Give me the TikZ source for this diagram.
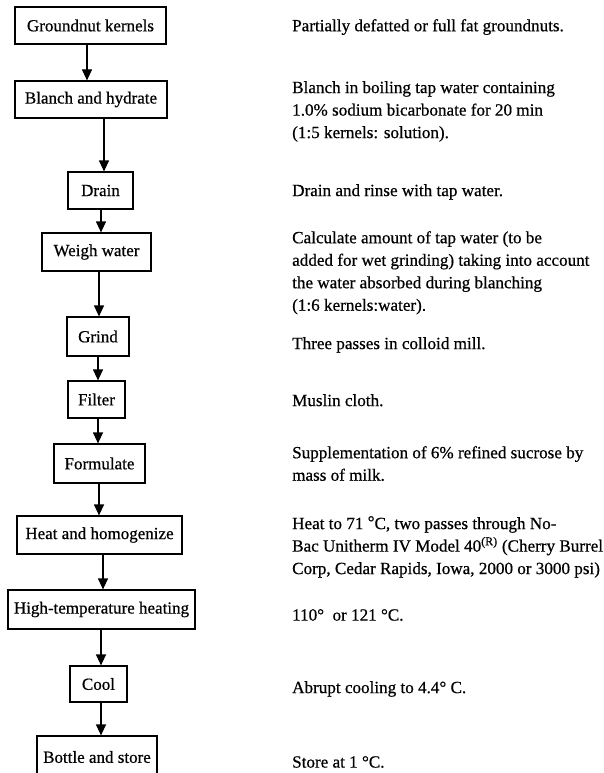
\documentclass[tikz,border=0pt]{standalone}
\usepackage{fontspec}
\setmainfont{Liberation Serif}[FakeBold=0.6]
\usetikzlibrary{arrows.meta}
\tikzset{
  stepbox/.style={draw, line width=1.2pt, inner sep=0pt, font=\fontsize{17}{20}\selectfont},
  note/.style={anchor=north west, inner sep=0pt, align=left, font=\fontsize{17.1}{22.5}\selectfont},
  flow/.style={line width=1.2pt, -{Triangle[width=10pt,length=11pt]}}
}
\begin{document}
\begin{tikzpicture}[x=1pt,y=-1pt]
\fill[white] (0,0) rectangle (604,773);
\useasboundingbox (0,0) rectangle (604,773);
\clip (0,0) rectangle (604,773);
% boxes
\node[stepbox, minimum width=151pt, minimum height=37pt] (gk) at (90.5,25.5) {Groundnut kernels};
\node[stepbox, minimum width=152pt, minimum height=37pt] (bh) at (91,99.5) {Blanch and hydrate};
\node[stepbox, minimum width=65pt, minimum height=37pt] (dr) at (100.5,190.5) {Drain};
\node[stepbox, minimum width=109pt, minimum height=38pt] (ww) at (96.5,252) {Weigh water};
\node[stepbox, minimum width=62pt, minimum height=39pt] (gr) at (98,336.5) {Grind};
\node[stepbox, minimum width=57pt, minimum height=37pt] (fi) at (96.5,399.5) {Filter};
\node[stepbox, minimum width=91pt, minimum height=39pt] (fo) at (99.5,463.5) {Formulate};
\node[stepbox, minimum width=165pt, minimum height=38pt] (hh) at (99.5,535) {Heat and homogenize};
\node[stepbox, minimum width=187pt, minimum height=39pt] (ht) at (101.5,609.5) {High-temperature heating};
\node[stepbox, minimum width=57pt, minimum height=36pt] (co) at (98.5,684) {Cool};
\node[stepbox, minimum width=120pt, minimum height=42pt] (bs) at (97,757) {Bottle and store};
% connectors
\draw[flow] (gk.south -| 87,0) -- (bh.north -| 87,0);
\draw[flow] (bh.south -| 104,0) -- (dr.north -| 104,0);
\draw[flow] (dr.south -| 101,0) -- (ww.north -| 101,0);
\draw[flow] (ww.south -| 99,0) -- (gr.north -| 99,0);
\draw[flow] (gr.south -| 98,0) -- (fi.north -| 98,0);
\draw[flow] (fi.south -| 98,0) -- (fo.north -| 98,0);
\draw[flow] (fo.south -| 99,0) -- (hh.north -| 99,0);
\draw[flow] (hh.south -| 103,0) -- (ht.north -| 103,0);
\draw[flow] (ht.south -| 101,0) -- (co.north -| 101,0);
\draw[flow] (co.south -| 101,0) -- (bs.north -| 101,0);
% notes
\node[note] (n1) at (292,19) {Partially defatted or full fat groundnuts.};
\node[note] (n2) at (292,81) {Blanch in boiling tap water containing\\1.0\% sodium bicarbonate for 20 min\\(1:5 kernels: solution).};
\node[note] (n3) at (292,184) {Drain and rinse with tap water.};
\node[note] (n4) at (292,231) {Calculate amount of tap water (to be\\added for wet grinding) taking into account\\the water absorbed during blanching\\(1:6 kernels:water).};
\node[note] (n5) at (292,337) {Three passes in colloid mill.};
\node[note] (n6) at (292,394) {Muslin cloth.};
\node[note] (n7) at (292,446) {Supplementation of 6\% refined sucrose by\\mass of milk.};
\node[note] (n8) at (292,516) {Heat to 71 \raisebox{1.5pt}{°}C, two passes through No-\\Bac Unitherm IV Model 40\textsuperscript{(R)} (Cherry Burrel\\Corp, Cedar Rapids, Iowa, 2000 or 3000 psi)};
\node[note] (n9) at (292,609) {110°\ \ or 121 °C.};
\node[note] (n10) at (292,681) {Abrupt cooling to 4.4° C.};
\node[note] (n11) at (292,756) {Store at 1 °C.};
\end{tikzpicture}
\end{document}
